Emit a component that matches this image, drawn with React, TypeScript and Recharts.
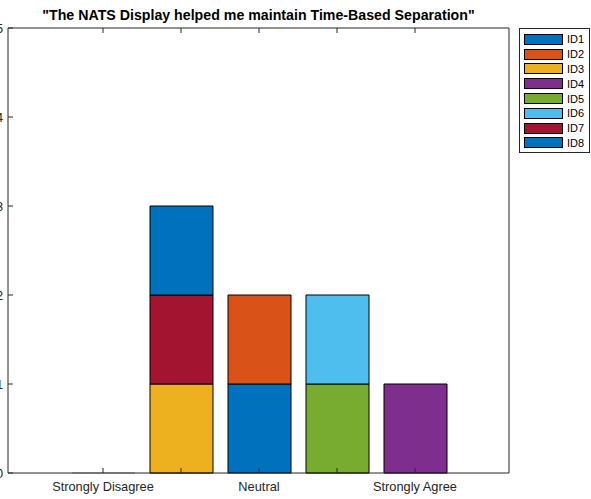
import { Bar, BarChart, XAxis, YAxis } from 'recharts'

const categories = ['Strongly Disagree', 'Disagree', 'Neutral', 'Agree', 'Strongly Agree']
const tickLabels = ['Strongly Disagree', '', 'Neutral', '', 'Strongly Agree']
const seriesNames = ['ID1', 'ID2', 'ID3', 'ID4', 'ID5', 'ID6', 'ID7', 'ID8']
const seriesColors = ['#0072BD', '#D95319', '#EDB120', '#7E2F8E', '#77AC30', '#4DBEEE', '#A2142F', '#0072BD']

const id1 = [0, 0, 1, 0, 0]
const id2 = [0, 0, 1, 0, 0]
const id3 = [0, 1, 0, 0, 0]
const id4 = [0, 0, 0, 0, 1]
const id5 = [0, 0, 0, 1, 0]
const id6 = [0, 0, 0, 1, 0]
const id7 = [0, 1, 0, 0, 0]
const id8 = [0, 1, 0, 0, 0]
const seriesValues = [id1, id2, id3, id4, id5, id6, id7, id8]

const yTicks = [0, 1, 2, 3, 4, 5]
const title = '"The NATS Display helped me maintain Time-Based Separation"'

const AXIS = '#262626'
const FONT = '"Liberation Sans", Arial, Helvetica, sans-serif'

const data = categories.map((cat, i) => {
  const row: Record<string, string | number> = { cat, label: tickLabels[i] }
  seriesNames.forEach((name, s) => {
    row[name] = seriesValues[s][i]
  })
  return row
})

// MATLAB draws zero-height bars as a flat outline at the baseline
function FirstSeriesShape(props: any) {
  const { x, y, width, height, fill } = props
  if (!height) {
    return <line x1={x} x2={x + width} y1={y} y2={y} stroke="#8c8c8c" strokeWidth={1} />
  }
  return <rect x={x} y={y} width={width} height={height} fill={fill} stroke="#000" strokeWidth={1} />
}

export default function App() {
  const tickStyle = { fontSize: 12.8, fill: AXIS, fontFamily: FONT }
  return (
    <div style={{ position: 'absolute', left: 0, top: 0, width: 591, height: 499, background: '#fff' }}>
      <BarChart
        width={591}
        height={499}
        data={data}
        margin={{ top: 27, right: 81, left: 7, bottom: 25 }}
        barSize={63}
      >
        <XAxis
          dataKey="cat"
          height={1}
          padding={{ left: 56, right: 55 }}
          tickSize={-5}
          tickMargin={14}
          interval={0}
          tickFormatter={(_v: string, i: number) => tickLabels[i]}
          tick={tickStyle}
          axisLine={{ stroke: AXIS }}
          tickLine={{ stroke: AXIS }}
        />
        <XAxis
          xAxisId="top"
          orientation="top"
          dataKey="cat"
          height={1}
          padding={{ left: 56, right: 55 }}
          tickSize={-5}
          interval={0}
          tickFormatter={() => ''}
          axisLine={{ stroke: AXIS }}
          tickLine={{ stroke: AXIS }}
          label={{
            value: title,
            position: 'top',
            offset: 7,
            style: { fontWeight: 'bold', fontSize: 14.2, fill: '#000', fontFamily: FONT },
          }}
        />
        <YAxis
          type="number"
          domain={[0, 5]}
          ticks={yTicks}
          width={1}
          tickSize={-5}
          tickMargin={10}
          tick={tickStyle}
          axisLine={{ stroke: AXIS }}
          tickLine={{ stroke: AXIS }}
        />
        <YAxis
          yAxisId="right"
          orientation="right"
          type="number"
          domain={[0, 5]}
          ticks={yTicks}
          width={1}
          tickSize={-5}
          tickFormatter={() => ''}
          axisLine={{ stroke: AXIS }}
          tickLine={{ stroke: AXIS }}
        />
        {seriesNames.map((name, s) => (
          <Bar
            key={name}
            dataKey={name}
            stackId="a"
            fill={seriesColors[s]}
            stroke="#000"
            strokeWidth={1}
            isAnimationActive={false}
            shape={s === 0 ? FirstSeriesShape : undefined}
          />
        ))}
      </BarChart>
      <div
        style={{
          position: 'absolute',
          left: 519,
          top: 28,
          width: 65,
          border: '1px solid ' + AXIS,
          background: '#fff',
          padding: '3px 0 2px 4px',
          fontFamily: FONT,
          fontSize: 11,
          color: '#000',
          boxSizing: 'content-box',
        }}
      >
        {seriesNames.map((name, s) => (
          <div key={name} style={{ display: 'flex', alignItems: 'center', height: 14.8 }}>
            <div
              style={{
                width: 37,
                height: 9,
                background: seriesColors[s],
                border: '1px solid #000',
                marginRight: 4,
              }}
            />
            <span>{name}</span>
          </div>
        ))}
      </div>
    </div>
  )
}
